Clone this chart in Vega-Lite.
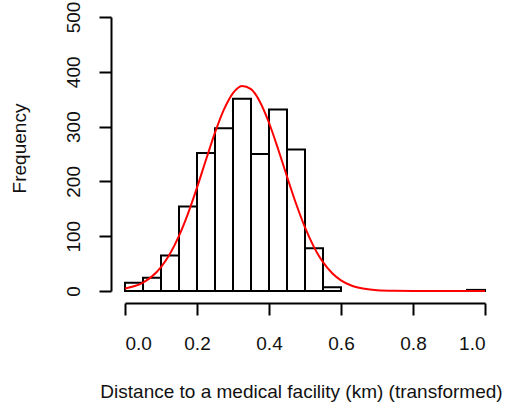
{
  "$schema": "https://vega.github.io/schema/vega-lite/v6.json",
  "width": 360,
  "height": 274,
  "autosize": {"type": "none"},
  "padding": {"left": 125, "top": 17, "right": 30, "bottom": 123},
  "background": "white",
  "config": {
    "view": {"stroke": null},
    "font": "Liberation Sans",
    "axis": {
      "grid": false,
      "domainColor": "black",
      "domainWidth": 2,
      "tickColor": "black",
      "tickWidth": 2,
      "tickSize": 12,
      "labelColor": "#111111",
      "labelFont": "Liberation Sans",
      "labelFontSize": 19,
      "titleFont": "Liberation Sans",
      "titleFontSize": 19,
      "titleFontWeight": "normal",
      "titleColor": "#111111"
    }
  },
  "datasets": {
    "bins": [
      {"x0": 0.0, "x1": 0.05, "count": 15},
      {"x0": 0.05, "x1": 0.1, "count": 24},
      {"x0": 0.1, "x1": 0.15, "count": 65},
      {"x0": 0.15, "x1": 0.2, "count": 154},
      {"x0": 0.2, "x1": 0.25, "count": 252},
      {"x0": 0.25, "x1": 0.3, "count": 297},
      {"x0": 0.3, "x1": 0.35, "count": 351},
      {"x0": 0.35, "x1": 0.4, "count": 250},
      {"x0": 0.4, "x1": 0.45, "count": 331},
      {"x0": 0.45, "x1": 0.5, "count": 258},
      {"x0": 0.5, "x1": 0.55, "count": 78},
      {"x0": 0.55, "x1": 0.6, "count": 7},
      {"x0": 0.95, "x1": 1.0, "count": 2}
    ],
    "curve": [
      {"x": 0.0, "y": 4.5}, {"x": 0.025, "y": 8.6}, {"x": 0.05, "y": 15.5},
      {"x": 0.075, "y": 26.7}, {"x": 0.1, "y": 43.7}, {"x": 0.125, "y": 68.0},
      {"x": 0.15, "y": 100.6}, {"x": 0.175, "y": 141.3}, {"x": 0.2, "y": 188.6},
      {"x": 0.225, "y": 239.4}, {"x": 0.25, "y": 288.9}, {"x": 0.275, "y": 331.3},
      {"x": 0.3, "y": 361.1}, {"x": 0.325, "y": 374.1}, {"x": 0.35, "y": 368.5},
      {"x": 0.375, "y": 345.0}, {"x": 0.4, "y": 307.0}, {"x": 0.425, "y": 259.6},
      {"x": 0.45, "y": 208.8}, {"x": 0.475, "y": 159.6}, {"x": 0.5, "y": 115.9},
      {"x": 0.525, "y": 80.0}, {"x": 0.55, "y": 52.6}, {"x": 0.575, "y": 32.8},
      {"x": 0.6, "y": 19.4}, {"x": 0.625, "y": 11.0}, {"x": 0.65, "y": 5.9},
      {"x": 0.675, "y": 3.0}, {"x": 0.7, "y": 1.4}, {"x": 0.75, "y": 0.3},
      {"x": 0.8, "y": 0.05}, {"x": 0.85, "y": 0}, {"x": 0.9, "y": 0},
      {"x": 0.95, "y": 0}, {"x": 1.0, "y": 0}
    ]
  },
  "layer": [
    {
      "data": {"name": "bins"},
      "mark": {"type": "rect", "fill": "white", "stroke": "black", "strokeWidth": 2},
      "encoding": {
        "x": {
          "field": "x0", "type": "quantitative",
          "scale": {"domain": [0, 1], "nice": false, "zero": false},
          "axis": {
            "values": [0, 0.2, 0.4, 0.6, 0.8, 1.0],
            "format": ".1f",
            "offset": 12,
            "labelPadding": 19,
            "title": "Distance to a medical facility (km) (transformed)",
            "titlePadding": 29,
            "titleX": 176,
            "titleAlign": "center"
          }
        },
        "x2": {"field": "x1"},
        "y": {
          "field": "count", "type": "quantitative",
          "scale": {"domain": [0, 500], "nice": false},
          "axis": {
            "values": [0, 100, 200, 300, 400, 500],
            "offset": 14,
            "labelAngle": 270,
            "labelAlign": "center",
            "labelBaseline": "bottom",
            "labelPadding": 16,
            "title": "Frequency",
            "titlePadding": 35,
            "titleY": 131
          }
        },
        "y2": {"datum": 0}
      }
    },
    {
      "data": {"name": "curve"},
      "mark": {"type": "line", "color": "#ff0000", "strokeWidth": 2, "interpolate": "monotone"},
      "encoding": {
        "x": {"field": "x", "type": "quantitative"},
        "y": {"field": "y", "type": "quantitative"}
      }
    }
  ]
}
